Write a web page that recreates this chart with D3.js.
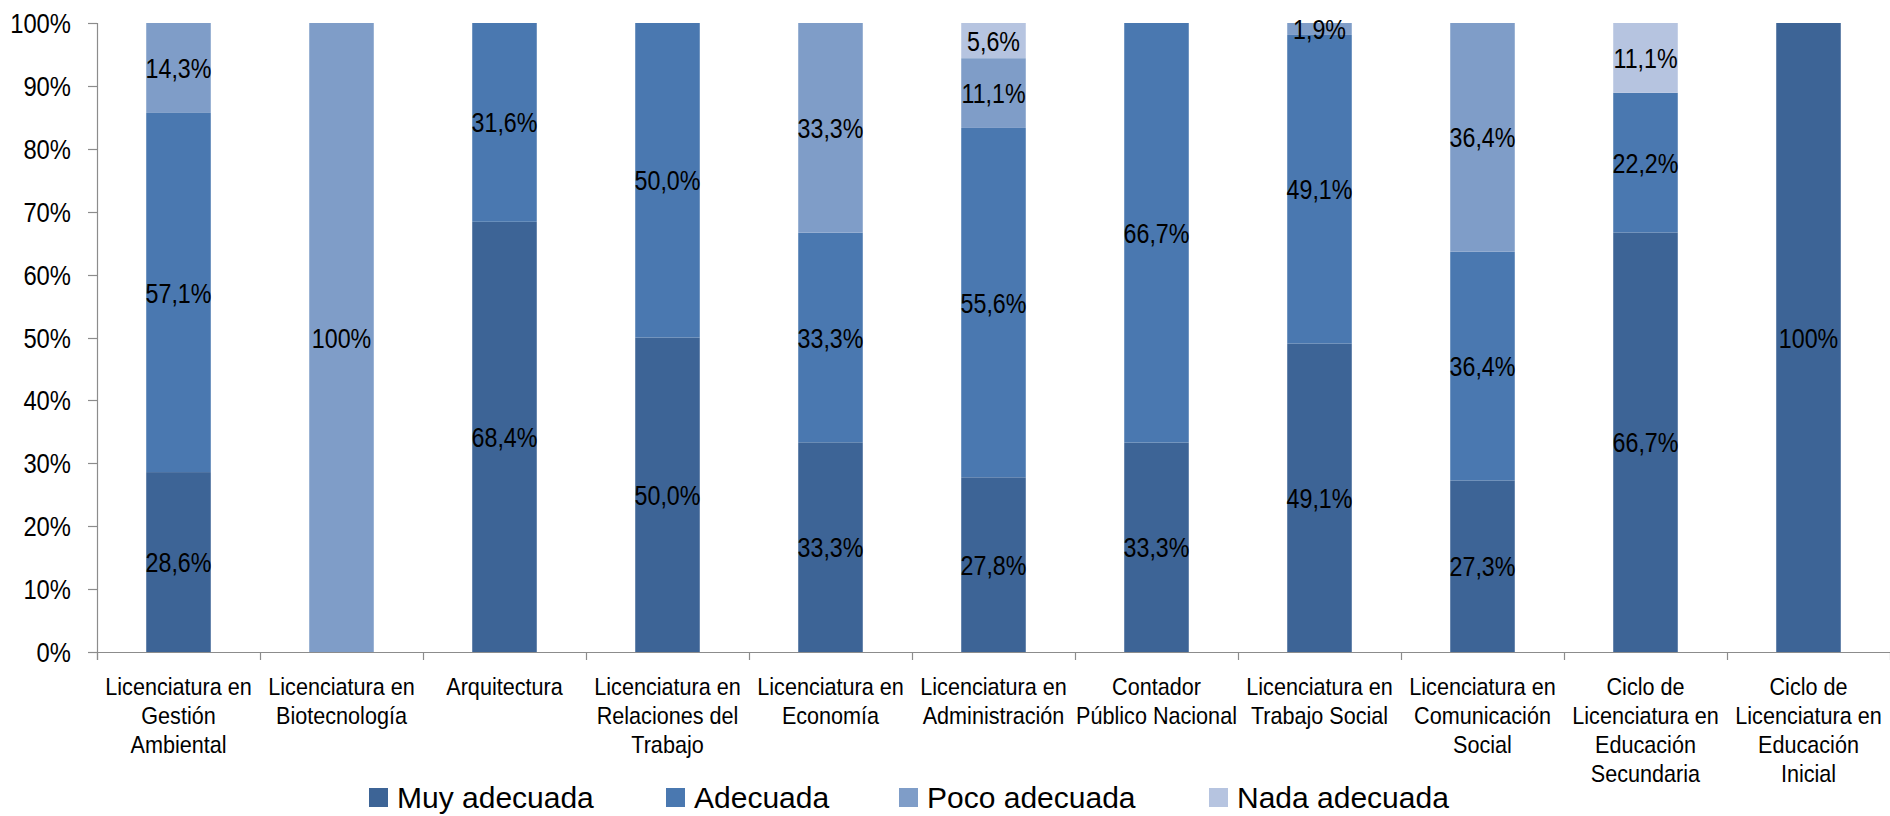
<!DOCTYPE html>
<html>
<head>
<meta charset="utf-8">
<script src="https://cdn.jsdelivr.net/npm/d3@7"></script>
<style>
  html, body { margin: 0; padding: 0; background: #fff; }
  svg { display: block; }
  text { font-family: "Liberation Sans", Arial, sans-serif; fill: #000; }
</style>
</head>
<body>
<svg id="chart" width="1890" height="816"></svg>
<script>
const categories = [
  "Licenciatura en\nGestión\nAmbiental",
  "Licenciatura en\nBiotecnología",
  "Arquitectura",
  "Licenciatura en\nRelaciones del\nTrabajo",
  "Licenciatura en\nEconomía",
  "Licenciatura en\nAdministración",
  "Contador\nPúblico Nacional",
  "Licenciatura en\nTrabajo Social",
  "Licenciatura en\nComunicación\nSocial",
  "Ciclo de\nLicenciatura en\nEducación\nSecundaria",
  "Ciclo de\nLicenciatura en\nEducación\nInicial"
];
const seriesNames = ["Muy adecuada", "Adecuada", "Poco adecuada", "Nada adecuada"];
const muyAdecuada  = [28.6, 0,   68.4, 50.0, 33.3, 27.8, 33.3, 49.1, 27.3, 66.7, 100];
const adecuada     = [57.1, 0,   31.6, 50.0, 33.3, 55.6, 66.7, 49.1, 36.4, 22.2, 0];
const pocoAdecuada = [14.3, 100, 0,    0,    33.3, 11.1, 0,    1.9,  36.4, 0,    0];
const nadaAdecuada = [0,    0,   0,    0,    0,    5.6,  0,    0,    0,    11.1, 0];
const yTicks = [0, 10, 20, 30, 40, 50, 60, 70, 80, 90, 100];
const colors = ["#3d6496", "#4a78b0", "#7f9dc8", "#b6c4e0"];

const seriesValues = [muyAdecuada, adecuada, pocoAdecuada, nadaAdecuada];

const svg = d3.select("#chart");
const mLeft = 97, mRight = 1890, mTop = 23, mBottom = 652;

const x = d3.scaleBand()
  .domain(d3.range(categories.length))
  .range([mLeft, mRight])
  .paddingInner(0.604)
  .paddingOuter(0.302);
const y = d3.scaleLinear().domain([0, 100]).range([mBottom, mTop]);
const step = x.step();

// build stacked rows (100% stacked -> normalise)
const rows = categories.map((c, i) => {
  const o = { i };
  seriesNames.forEach((s, k) => o[s] = seriesValues[k][i]);
  o.total = d3.sum(seriesValues, v => v[i]);
  return o;
});
const stack = d3.stack().keys(seriesNames)
  .value((d, key) => d[key] / d.total * 100);
const stacked = stack(rows);

const fmt = v => v === 100 ? "100%" : d3.format(".1f")(v).replace(".", ",") + "%";

// bars
stacked.forEach((layer, k) => {
  svg.append("g").selectAll("rect")
    .data(layer.filter(d => d[1] - d[0] > 0))
    .join("rect")
    .attr("x", d => x(d.data.i))
    .attr("width", x.bandwidth())
    .attr("y", d => y(d[1]))
    .attr("height", d => y(d[0]) - y(d[1]))
    .attr("fill", colors[k]);
});

// data labels
stacked.forEach((layer, k) => {
  svg.append("g").selectAll("text")
    .data(layer.filter(d => d[1] - d[0] > 0))
    .join("text")
    .attr("transform", d => `translate(${x(d.data.i) + x.bandwidth() / 2},${(y(d[0]) + y(d[1])) / 2 + 10}) scale(0.83,1)`)
    .attr("text-anchor", "middle")
    .style("font-size", "28px")
    .text(d => fmt(seriesValues[k][d.data.i]));
});

// axes
const axisColor = "#8c8c8c";
// y axis
const yg = svg.append("g");
yg.append("line").attr("x1", mLeft + 0.5).attr("x2", mLeft + 0.5)
  .attr("y1", y(100)).attr("y2", mBottom + 8).attr("stroke", axisColor).attr("stroke-width", 1.2);
yg.selectAll("line.tk").data(yTicks).join("line").attr("class", "tk")
  .attr("x1", mLeft - 9).attr("x2", mLeft)
  .attr("y1", d => Math.round(y(d)) + 0.5).attr("y2", d => Math.round(y(d)) + 0.5)
  .attr("stroke", axisColor).attr("stroke-width", 1.2);
yg.selectAll("text").data(yTicks).join("text")
  .attr("transform", d => `translate(71,${y(d) + 10}) scale(0.85,1)`)
  .attr("text-anchor", "end")
  .style("font-size", "28px")
  .text(d => d + "%");

// x axis
const xg = svg.append("g");
xg.append("line").attr("x1", mLeft).attr("x2", mRight)
  .attr("y1", mBottom + 0.5).attr("y2", mBottom + 0.5).attr("stroke", axisColor).attr("stroke-width", 1.2);
xg.selectAll("line.tk").data(d3.range(categories.length + 1)).join("line").attr("class", "tk")
  .attr("x1", i => mLeft + i * step + 0.5).attr("x2", i => mLeft + i * step + 0.5)
  .attr("y1", mBottom).attr("y2", mBottom + 8)
  .attr("stroke", axisColor).attr("stroke-width", 1.2);
const cl = xg.selectAll("g.cl").data(categories).join("g").attr("class", "cl");
cl.each(function (c, i) {
  const lines = c.split("\n");
  const cx = x(i) + x.bandwidth() / 2;
  d3.select(this).selectAll("text").data(lines).join("text")
    .attr("transform", (l, j) => `translate(${cx},${695 + j * 29}) scale(0.9,1)`)
    .attr("text-anchor", "middle")
    .style("font-size", "24px")
    .text(l => l);
});

// legend
const legendX = [369, 666, 899, 1209];
const lg = svg.append("g");
seriesNames.forEach((s, k) => {
  lg.append("rect").attr("x", legendX[k]).attr("y", 788).attr("width", 19).attr("height", 19).attr("fill", colors[k]);
  lg.append("text").attr("x", legendX[k] + 28).attr("y", 808)
    .style("font-size", "30px").text(s);
});
</script>
</body>
</html>
